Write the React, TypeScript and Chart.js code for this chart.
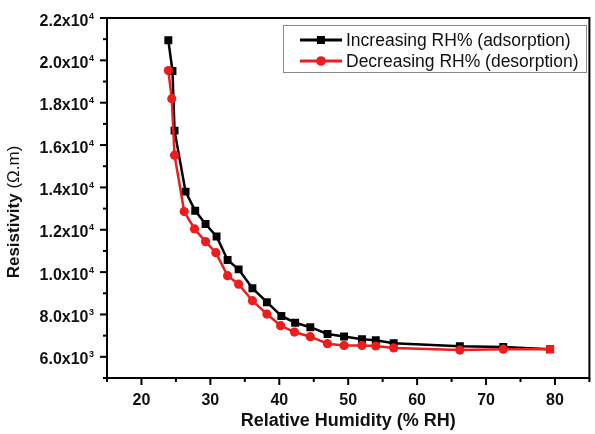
import React, { useEffect, useRef } from "react";
import { Chart, registerables } from "chart.js";

Chart.register(...registerables);

const adsorptionRH = [23.9, 24.5, 24.8, 26.4, 27.8, 29.3, 30.9, 32.5, 34.1, 36.1, 38.2, 40.3, 42.3, 44.5, 47.0, 49.4, 52.0, 54.0, 56.6, 66.2, 72.5, 79.3];
const adsorptionRes = [20950, 19500, 16680, 13800, 12900, 12270, 11680, 10570, 10130, 9240, 8580, 7930, 7610, 7400, 7080, 6960, 6830, 6780, 6640, 6500, 6460, 6360];
const desorptionRH = [23.9, 24.4, 24.8, 26.2, 27.7, 29.3, 30.8, 32.5, 34.1, 36.1, 38.2, 40.2, 42.2, 44.5, 47.0, 49.4, 52.0, 54.0, 56.6, 66.2, 72.5, 79.3];
const desorptionRes = [19520, 18190, 15520, 12860, 12040, 11440, 10920, 9830, 9430, 8650, 8020, 7470, 7170, 6950, 6620, 6540, 6540, 6510, 6420, 6320, 6360, 6360];

const seriesLabels = ["Increasing RH% (adsorption)", "Decreasing RH% (desorption)"];
const xTickValues = [20, 30, 40, 50, 60, 70, 80];
const yTickValues = [6000, 8000, 10000, 12000, 14000, 16000, 18000, 20000, 22000];
const xTitle = "Relative Humidity (% RH)";
const yTitleMain = "Resistivity ";
const yTitleUnit = "(\u03A9.m)";

const FONT = "'Liberation Sans', Arial, Helvetica, sans-serif";
const BLACK = "#000000";
const RED = "#ee1c1c";

function splitY(v: number): [string, string] {
  const exp = Math.floor(Math.log10(v));
  const mant = v / Math.pow(10, exp);
  return [mant.toFixed(1) + "x10", String(exp)];
}

const framePlugin = {
  id: "frameTicks",
  afterDraw(chart: any) {
    const { ctx, chartArea } = chart;
    const xs = chart.scales.x;
    const ys = chart.scales.y;
    ctx.save();
    ctx.strokeStyle = "#000";
    ctx.lineWidth = 2;
    ctx.strokeRect(chartArea.left, chartArea.top, chartArea.right - chartArea.left, chartArea.bottom - chartArea.top);
    for (let v = xs.min; v <= xs.max + 1e-9; v += 5) {
      const px = xs.getPixelForValue(v);
      const len = xTickValues.includes(v) ? 7 : 4;
      ctx.beginPath();
      ctx.moveTo(px, chartArea.bottom);
      ctx.lineTo(px, chartArea.bottom + len);
      ctx.stroke();
    }
    for (let v = ys.min; v <= ys.max + 1e-9; v += 1000) {
      const py = ys.getPixelForValue(v);
      const len = yTickValues.includes(v) ? 7 : 4;
      ctx.beginPath();
      ctx.moveTo(chartArea.left, py);
      ctx.lineTo(chartArea.left - len, py);
      ctx.stroke();
    }
    // y tick labels with superscript exponents
    ctx.fillStyle = "#111";
    ctx.textBaseline = "alphabetic";
    ctx.textAlign = "right";
    const rightEdge = chartArea.left - 13;
    yTickValues.forEach((v) => {
      const py = ys.getPixelForValue(v);
      const [main, exp] = splitY(v);
      ctx.font = "bold 9px " + FONT;
      const ew = ctx.measureText(exp).width;
      ctx.fillText(exp, rightEdge, py + 0.5);
      ctx.font = "bold 16px " + FONT;
      ctx.fillText(main, rightEdge - ew - 0.5, py + 7.5);
    });
    // y title, rotated
    ctx.translate(14, 212);
    ctx.rotate(-Math.PI / 2);
    ctx.textAlign = "left";
    ctx.textBaseline = "middle";
    ctx.font = "bold 17px " + FONT;
    const w1 = ctx.measureText(yTitleMain).width;
    ctx.font = "17px " + FONT;
    const w2 = ctx.measureText(yTitleUnit).width;
    const start = -(w1 + w2) / 2;
    ctx.font = "bold 17px " + FONT;
    ctx.fillText(yTitleMain, start, 0);
    ctx.font = "17px " + FONT;
    ctx.fillText(yTitleUnit, start + w1, 0);
    ctx.restore();
  },
};

const legendPlugin = {
  id: "boxLegend",
  afterDraw(chart: any) {
    const { ctx } = chart;
    const bx = 283, by = 25, bw = 303, bh = 47;
    ctx.save();
    ctx.fillStyle = "#fff";
    ctx.fillRect(bx, by, bw, bh);
    ctx.strokeStyle = "#8a8a8a";
    ctx.lineWidth = 1;
    ctx.strokeRect(bx + 0.5, by + 0.5, bw, bh);
    const rows = [40, 61];
    chart.data.datasets.forEach((ds: any) => {
      const y = rows[ds.legendRow];
      ctx.strokeStyle = ds.borderColor;
      ctx.lineWidth = 3;
      ctx.beginPath();
      ctx.moveTo(300, y);
      ctx.lineTo(342, y);
      ctx.stroke();
      ctx.fillStyle = ds.backgroundColor;
      if (ds.legendMarker === "rect") {
        ctx.fillRect(321 - 4, y - 4, 8, 8);
      } else {
        ctx.beginPath();
        ctx.arc(321, y, 4.8, 0, Math.PI * 2);
        ctx.fill();
      }
      ctx.fillStyle = "#111";
      ctx.font = "17.5px " + FONT;
      ctx.textBaseline = "middle";
      ctx.textAlign = "left";
      ctx.fillText(ds.label, 346, y + 1);
    });
    ctx.restore();
  },
};

export default function App() {
  const ref = useRef<HTMLCanvasElement>(null);
  useEffect(() => {
    const canvas = ref.current;
    if (!canvas) return;
    const n = desorptionRes.length;
    const chart = new Chart(canvas, {
      type: "line",
      data: {
        datasets: [
          {
            label: seriesLabels[0],
            data: adsorptionRH.map((x, i) => ({ x, y: adsorptionRes[i] })),
            borderColor: BLACK,
            backgroundColor: BLACK,
            borderWidth: 2.5,
            pointStyle: "rect",
            pointRadius: 5.6,
            pointBorderWidth: 0,
            tension: 0,
            order: 1,
            legendRow: 0,
            legendMarker: "rect",
          } as any,
          {
            label: seriesLabels[1],
            data: desorptionRH.map((x, i) => ({ x, y: desorptionRes[i] })),
            borderColor: RED,
            backgroundColor: RED,
            borderWidth: 2.5,
            pointStyle: (c: any) => (c.dataIndex === n - 1 ? "rect" : "circle"),
            pointRadius: (c: any) => (c.dataIndex === n - 1 ? 5.6 : 4.6),
            pointBorderWidth: 0,
            tension: 0,
            order: 0,
            legendRow: 1,
            legendMarker: "circle",
          } as any,
        ],
      },
      options: {
        responsive: false,
        animation: false,
        events: [],
        layout: { padding: { top: 18, right: 1, left: 0, bottom: 0 } },
        plugins: { legend: { display: false }, tooltip: { enabled: false } },
        scales: {
          x: {
            type: "linear",
            min: 15,
            max: 85,
            border: { display: false },
            grid: { display: false, drawTicks: false },
            afterBuildTicks: (s: any) => {
              s.ticks = xTickValues.map((v) => ({ value: v }));
            },
            afterFit: (s: any) => {
              s.height = 56;
            },
            ticks: {
              autoSkip: false,
              maxRotation: 0,
              padding: 13,
              color: "#111",
              font: { family: FONT, size: 16, weight: "bold" },
              callback: (v: any) => String(v),
            },
            title: {
              display: true,
              text: xTitle,
              color: "#111",
              font: { family: FONT, size: 18, weight: "bold" },
              padding: { top: 0, bottom: 2 },
            },
          },
          y: {
            type: "linear",
            min: 5000,
            max: 22000,
            border: { display: false },
            grid: { display: false, drawTicks: false },
            afterBuildTicks: (s: any) => {
              s.ticks = yTickValues.map((v) => ({ value: v }));
            },
            afterFit: (s: any) => {
              s.width = 107;
            },
            ticks: { display: false },
            title: { display: false },
          },
        },
      },
      plugins: [framePlugin, legendPlugin],
    });
    return () => chart.destroy();
  }, []);
  return (
    <div style={{ position: "absolute", left: 0, top: 0, width: 595, height: 434, background: "#fff" }}>
      <canvas ref={ref} width={595} height={434} style={{ display: "block" }} />
    </div>
  );
}
